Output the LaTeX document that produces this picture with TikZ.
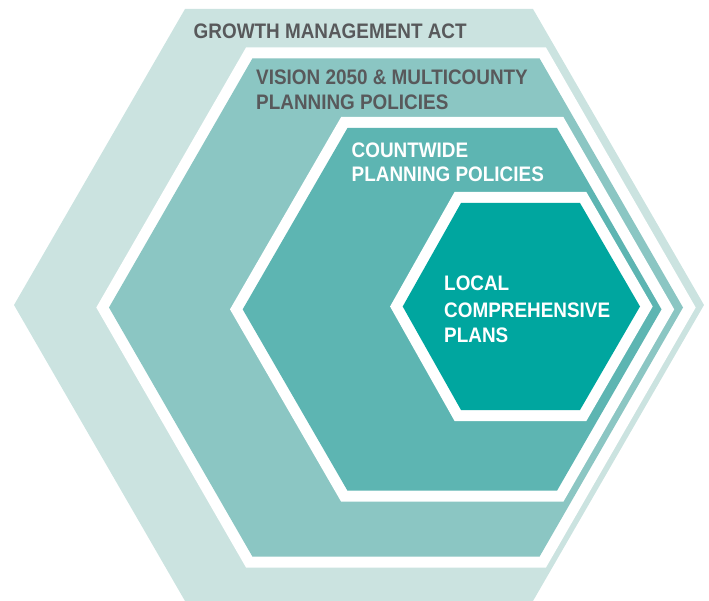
\documentclass[tikz,border=0pt]{standalone}
\usepackage{fontspec}
\newfontfamily\lblfont{Liberation Sans}[FakeStretch=0.9]
\definecolor{hexA}{HTML}{CBE3E0}
\definecolor{hexB}{HTML}{8BC6C3}
\definecolor{hexC}{HTML}{5DB5B2}
\definecolor{hexD}{HTML}{00A69F}
\definecolor{txtgray}{HTML}{58595B}
% #1 left x, #2 top-left x, #3 top-right x, #4 right x, #5 top y, #6 bottom y
\newcommand{\hexpath}[6]{(#1,{(#5+#6)/2}) -- (#2,#5) -- (#3,#5) -- (#4,{(#5+#6)/2}) -- (#3,#6) -- (#2,#6) -- cycle}
\begin{document}
\begin{tikzpicture}[x=1pt,y=-1pt,
  gapline/.style={draw=white,fill=white,line width=22pt,line join=miter},
  lbl/.style={anchor=base west,inner sep=0pt,font=\lblfont\bfseries\fontsize{21}{24}\selectfont},
  labdark/.style={lbl,text=txtgray},
  lablight/.style={lbl,text=white}]
\useasboundingbox (0,0) rectangle (709,601);
% outer hexagon
\fill[hexA] \hexpath{14}{185}{533}{704}{9}{601};
% second hexagon
\path[gapline] \hexpath{109}{252.5}{539.5}{683}{58.3}{556.7};
\fill[hexB] \hexpath{109}{252.5}{539.5}{683}{58.3}{556.7};
% third hexagon
\path[gapline] \hexpath{242.7}{347.5}{557}{661.5}{128}{490.7};
\fill[hexC] \hexpath{242.7}{347.5}{557}{661.5}{128}{490.7};
% inner hexagon
\path[gapline] \hexpath{402.7}{461}{580}{640}{203}{410};
\fill[hexD] \hexpath{402.7}{461}{580}{640}{203}{410};
% labels
\node[labdark] (gma) at (193.5,38.3) {GROWTH MANAGEMENT ACT};
\node[labdark] (vis1) at (256,85) {VISION 2050 \& MULTICOUNTY};
\node[labdark] (vis2) at (256,110) {PLANNING POLICIES};
\node[lablight] (cw1) at (351.5,157.7) {COUNTWIDE};
\node[lablight] (cw2) at (351.5,181.7) {PLANNING POLICIES};
\node[lablight] (loc1) at (444,290.7) {LOCAL};
\node[lablight] (loc2) at (444,317.3) {COMPREHENSIVE};
\node[lablight] (loc3) at (444,342.7) {PLANS};
\end{tikzpicture}
\end{document}
